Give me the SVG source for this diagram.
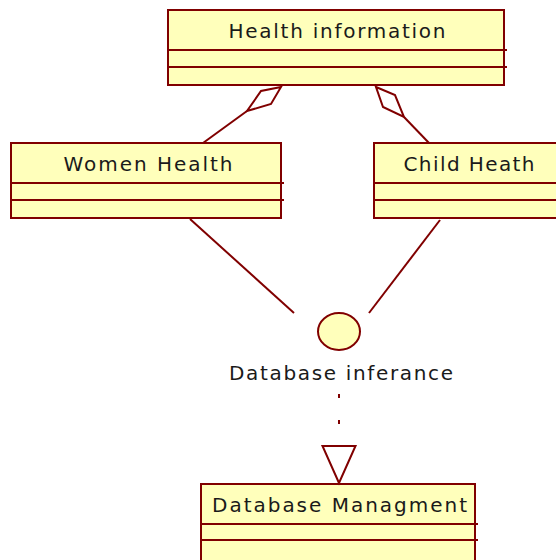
<svg xmlns="http://www.w3.org/2000/svg" width="556" height="560" viewBox="0 0 556 560">
<style>
.box{fill:#ffffbb;stroke:#800000;stroke-width:2}
.div{stroke:#800000;stroke-width:2;fill:none}
.ln{stroke:#800000;stroke-width:2;fill:none}
.t{font-family:"DejaVu Sans",sans-serif;font-size:20px;fill:#1a1a1a;text-anchor:middle}
</style>
<rect width="556" height="560" fill="#ffffff"/>
<g id="health-information">
<rect class="box" x="168" y="10" width="336" height="75"/>
<line class="div" x1="168" y1="50" x2="507" y2="50"/>
<line class="div" x1="168" y1="67" x2="507" y2="67"/>
<text class="t" x="337" y="38" textLength="217" lengthAdjust="spacing">Health information</text>
</g>
<g id="women-health">
<rect class="box" x="11" y="143" width="270" height="75"/>
<line class="div" x1="11" y1="183" x2="284" y2="183"/>
<line class="div" x1="11" y1="200" x2="284" y2="200"/>
<text class="t" x="148" y="171" textLength="169" lengthAdjust="spacing">Women Health</text>
</g>
<g id="child-heath">
<rect class="box" x="374" y="143" width="200" height="75"/>
<line class="div" x1="374" y1="183" x2="576" y2="183"/>
<line class="div" x1="374" y1="200" x2="576" y2="200"/>
<text class="t" x="469" y="171" textLength="131" lengthAdjust="spacing">Child Heath</text>
</g>
<g id="database-inferance">
<ellipse class="box" cx="339" cy="331.5" rx="21" ry="18.5"/>
<text class="t" x="341" y="380" textLength="224" lengthAdjust="spacing">Database inferance</text>
</g>
<g id="database-managment">
<rect class="box" x="201" y="484" width="274" height="80"/>
<line class="div" x1="201" y1="524" x2="478" y2="524"/>
<line class="div" x1="201" y1="540" x2="478" y2="540"/>
<text class="t" x="339.5" y="512" textLength="255" lengthAdjust="spacing">Database Managment</text>
</g>
<g id="connectors">
<polygon class="ln" fill="#ffffff" points="281,87 261,91 247,111 271,104"/>
<line class="ln" x1="247" y1="111" x2="203" y2="143"/>
<polygon class="ln" fill="#ffffff" points="376,87 395,95 404,117 383,107"/>
<line class="ln" x1="404" y1="117" x2="429" y2="143"/>
<line class="ln" x1="190" y1="219" x2="294" y2="313"/>
<line class="ln" x1="440" y1="220" x2="369" y2="313"/>
<line class="ln" x1="339" y1="394" x2="339" y2="447" stroke-dasharray="4 22"/>
<polygon class="ln" fill="#ffffff" points="322.5,446 355.5,446 339,483"/>
</g>
</svg>
